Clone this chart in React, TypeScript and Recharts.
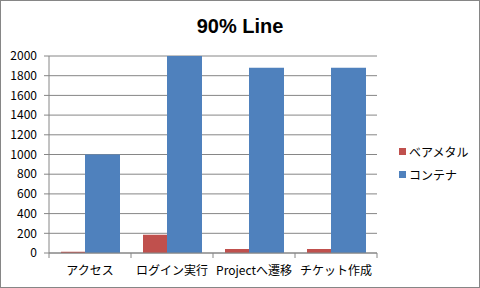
import React from "react";
import { BarChart, Bar, XAxis, YAxis, CartesianGrid, Legend } from "recharts";

const categories = ["アクセス", "ログイン実行", "Projectへ遷移", "チケット作成"];
const bareMetal = [12, 185, 40, 40];
const container = [1000, 2000, 1880, 1880];
const yTicks = [0, 200, 400, 600, 800, 1000, 1200, 1400, 1600, 1800, 2000];

const FONT = "'Noto Sans CJK JP', 'Liberation Sans', sans-serif";
const GRID = "#868686";

const data = categories.map((name, i) => ({
  name,
  bare: bareMetal[i],
  container: container[i],
}));

// Excel風にカテゴリの境目に目盛りを描く
const CategoryTick = ({ x, y, payload, index }: any) => {
  const half = 41;
  return (
    <g>
      <line x1={x - half} y1={y - 8} x2={x - half} y2={y - 3} stroke={GRID} />
      {index === categories.length - 1 && (
        <line x1={x + half} y1={y - 8} x2={x + half} y2={y - 3} stroke={GRID} />
      )}
      <text x={x} y={y + 14} textAnchor="middle" fontSize={12} fill="#000" fontFamily={FONT}>
        {payload.value}
      </text>
    </g>
  );
};

const LegendContent = ({ payload }: any) => (
  <div style={{ fontFamily: FONT, fontSize: 12, color: "#000" }}>
    {payload.map((entry: any) => (
      <div key={entry.value} style={{ display: "flex", alignItems: "center", height: 23 }}>
        <span style={{ width: 7, height: 7, background: entry.color, marginRight: 3 }} />
        {entry.value}
      </div>
    ))}
  </div>
);

const App: React.FC = () => {
  return (
    <div
      style={{
        position: "absolute",
        left: 0,
        top: 0,
        width: 480,
        height: 288,
        border: `1px solid ${GRID}`,
        boxSizing: "border-box",
        background: "#fff",
      }}
    >
      <div
        style={{
          position: "absolute",
          left: 0,
          top: 14,
          width: 478,
          textAlign: "center",
          fontFamily: "'Liberation Sans', sans-serif",
          fontWeight: "bold",
          fontSize: 20,
        }}
      >
        90% Line
      </div>
      <BarChart
        width={478}
        height={286}
        data={data}
        margin={{ top: 55, right: 102, bottom: 0, left: 0 }}
        barSize={35}
        barGap={-11}
        style={{ position: "absolute", left: 0, top: 0 }}
      >
        <CartesianGrid vertical={false} stroke={GRID} />
        <XAxis
          dataKey="name"
          axisLine={{ stroke: GRID }}
          tickLine={false}
          tick={<CategoryTick />}
          height={34}
          interval={0}
        />
        <YAxis
          domain={[0, 2000]}
          ticks={yTicks}
          width={48}
          axisLine={{ stroke: GRID }}
          tickLine={{ stroke: GRID }}
          tickSize={5}
          tickMargin={7}
          interval={0}
          tick={{ fontSize: 12, fill: "#000", fontFamily: FONT }}
        />
        <Legend
          layout="vertical"
          align="center"
          verticalAlign="middle"
          itemSorter="dataKey"
          content={<LegendContent />}
          wrapperStyle={{ left: 398, top: 139, width: 80 }}
        />
        <Bar dataKey="bare" name="ベアメタル" fill="#C0504D" isAnimationActive={false} />
        <Bar dataKey="container" name="コンテナ" fill="#4F81BD" isAnimationActive={false} />
      </BarChart>
    </div>
  );
};

export default App;
